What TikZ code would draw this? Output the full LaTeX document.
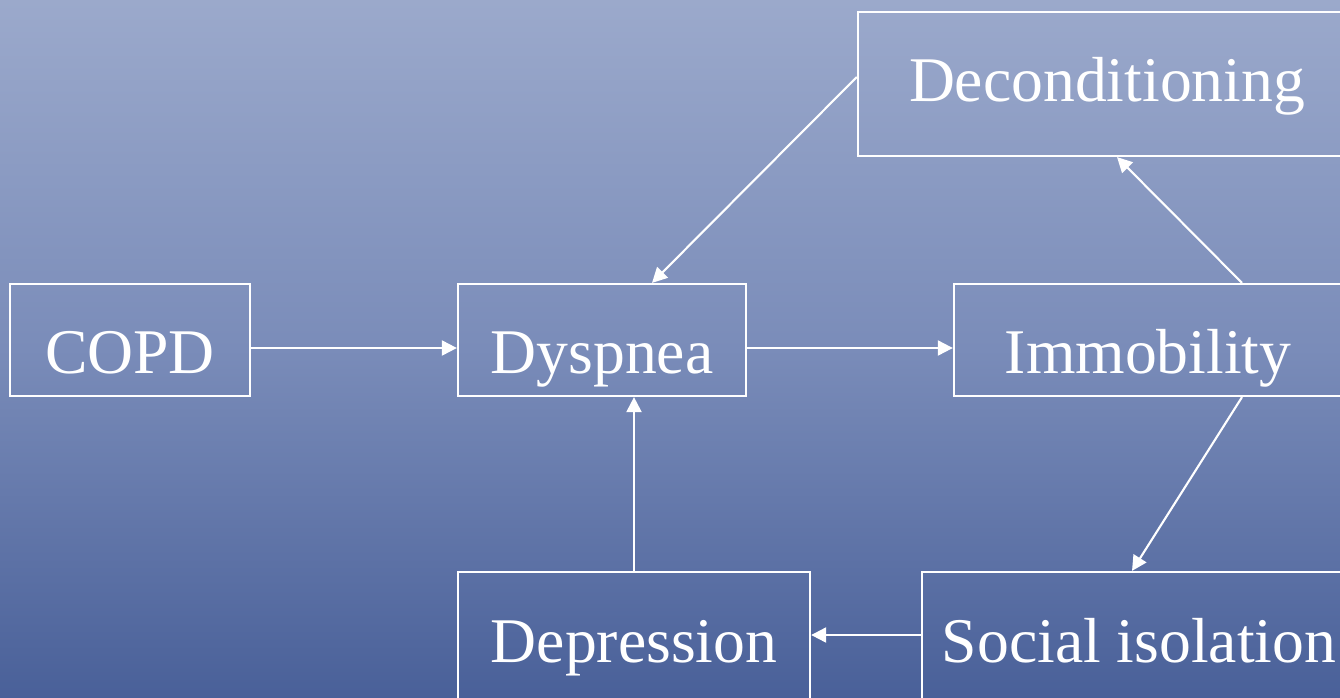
\documentclass[tikz,border=0pt]{standalone}
\usepackage{fontspec}
\setmainfont{Liberation Serif}
\usetikzlibrary{arrows.meta,calc}
\definecolor{bgtop}{RGB}{156,170,204}
\definecolor{bgmid}{RGB}{122,140,185}
\definecolor{bgbot}{RGB}{72,95,152}
\tikzset{
  box/.style={draw=white, line width=0.6pt, inner sep=0pt, text=white,
    font=\fontsize{18.1pt}{20pt}\selectfont, text depth=0pt},
  arr/.style={draw=white, line width=0.6pt, -{Triangle[length=0.15cm,width=0.15cm]}},
}
\begin{document}
\begin{tikzpicture}[x=0.01cm,y=-0.01cm]
\useasboundingbox (0,0) rectangle (1340,697);
\clip (0,0) rectangle (1340,697);
\shade[top color=bgtop, bottom color=bgbot, middle color=bgmid] (-10,-10) rectangle (1350,707);
\node[box, minimum width=2.4cm, minimum height=1.12cm, text height=0.66cm] (copd) at (130,340) {COPD};
\node[box, minimum width=2.88cm, minimum height=1.12cm, text height=0.66cm] (dysp) at (602,340) {Dyspnea};
\node[box, minimum width=3.88cm, minimum height=1.12cm, text height=0.66cm] (immo) at (1148,340) {Immobility};
\node[box, minimum width=4.98cm, minimum height=1.44cm, text height=0.34cm] (decon) at (1107,84) {Deconditioning};
\node[box, minimum width=4.34cm, minimum height=1.38cm, text height=0.42cm] (social) at (1139,641) {Social isolation};
\node[box, minimum width=3.52cm, minimum height=1.38cm, text height=0.42cm] (depr) at (634,641) {Depression};
\draw[arr] ($(copd.east)+(0,8)$) -- ($(dysp.west)+(0,8)$);
\draw[arr] ($(dysp.east)+(0,8)$) -- ($(immo.west)+(0,8)$);
\draw[arr] ($(decon.west)+(0,-7)$) -- ($(dysp.north)+(50,0)$);
\draw[arr] ($(immo.north)+(94,0)$) -- ($(decon.south)+(10,0)$);
\draw[arr] ($(immo.south)+(94,0)$) -- ($(social.north)+(-7,0)$);
\draw[arr] ($(social.west)+(0,-6)$) -- ($(depr.east)+(0,-6)$);
\draw[arr] (depr.north) -- (depr.north |- dysp.south);
\end{tikzpicture}
\end{document}
